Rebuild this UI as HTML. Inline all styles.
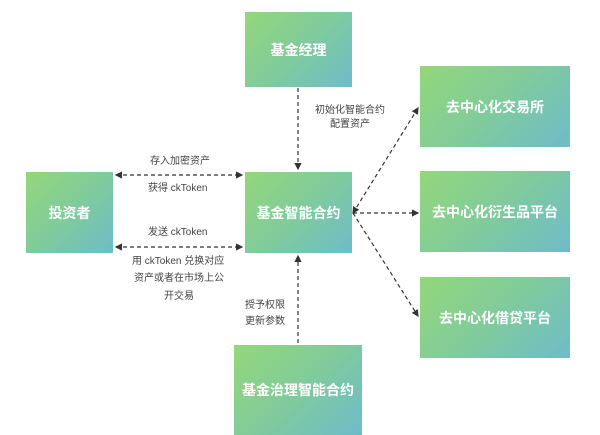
<!DOCTYPE html>
<html><head><meta charset="utf-8"><style>
body{margin:0;width:600px;height:433px;background:#fff;position:relative;overflow:hidden;font-family:"Liberation Sans","Noto Sans CJK SC",sans-serif}
.b{position:absolute;background:linear-gradient(135deg,#94d77a 0%,#80cb9c 50%,#6ebcca 100%);color:#fff;font-size:14px;font-weight:bold;display:flex;align-items:center;justify-content:center}
.t{position:absolute;font-size:10px;color:#444;white-space:nowrap;line-height:12px}
svg{position:absolute;left:0;top:0}
</style></head><body>
<div class="b" style="left:245px;top:12px;width:107px;height:75px">基金经理</div>
<div class="b" style="left:26px;top:172px;width:87px;height:81px">投资者</div>
<div class="b" style="left:245px;top:172px;width:107px;height:81px">基金智能合约</div>
<div class="b" style="left:420px;top:66px;width:150px;height:81px">去中心化交易所</div>
<div class="b" style="left:420px;top:171px;width:150px;height:81px">去中心化衍生品平台</div>
<div class="b" style="left:420px;top:277px;width:150px;height:81px">去中心化借贷平台</div>
<div class="b" style="left:234px;top:345px;width:128px;height:90px">基金治理智能合约</div>
<svg width="600" height="433">
<defs><marker id="a" markerWidth="6" markerHeight="6" refX="5" refY="3" orient="auto-start-reverse"><path d="M0,0L6,3L0,6z" fill="#333"/></marker></defs>
<g stroke="#333" stroke-width="1.2" stroke-dasharray="4,3" fill="none">
<line x1="116" y1="175" x2="242" y2="175" marker-start="url(#a)" marker-end="url(#a)"/>
<line x1="116" y1="247" x2="242" y2="247" marker-start="url(#a)" marker-end="url(#a)"/>
<line x1="298" y1="88" x2="298" y2="169" marker-end="url(#a)"/>
<line x1="298" y1="343" x2="298" y2="256" marker-end="url(#a)"/>
<line x1="353" y1="213" x2="418" y2="108" marker-start="url(#a)" marker-end="url(#a)"/>
<line x1="353" y1="213" x2="418" y2="213" marker-end="url(#a)"/>
<line x1="353" y1="213" x2="418" y2="316" marker-end="url(#a)"/>
</g></svg>
<div class="t" style="left:150px;top:156px">存入加密资产</div>
<div class="t" style="left:148px;top:183px">获得 ckToken</div>
<div class="t" style="left:148px;top:227px">发送 ckToken</div>
<div class="t" style="left:132px;top:256px">用 ckToken 兑换对应</div>
<div class="t" style="left:134px;top:273px">资产或者在市场上公</div>
<div class="t" style="left:164px;top:291px">开交易</div>
<div class="t" style="left:315px;top:105px">初始化智能合约</div>
<div class="t" style="left:330px;top:119px">配置资产</div>
<div class="t" style="left:245px;top:300px">授予权限</div>
<div class="t" style="left:245px;top:316px">更新参数</div>
</body></html>
